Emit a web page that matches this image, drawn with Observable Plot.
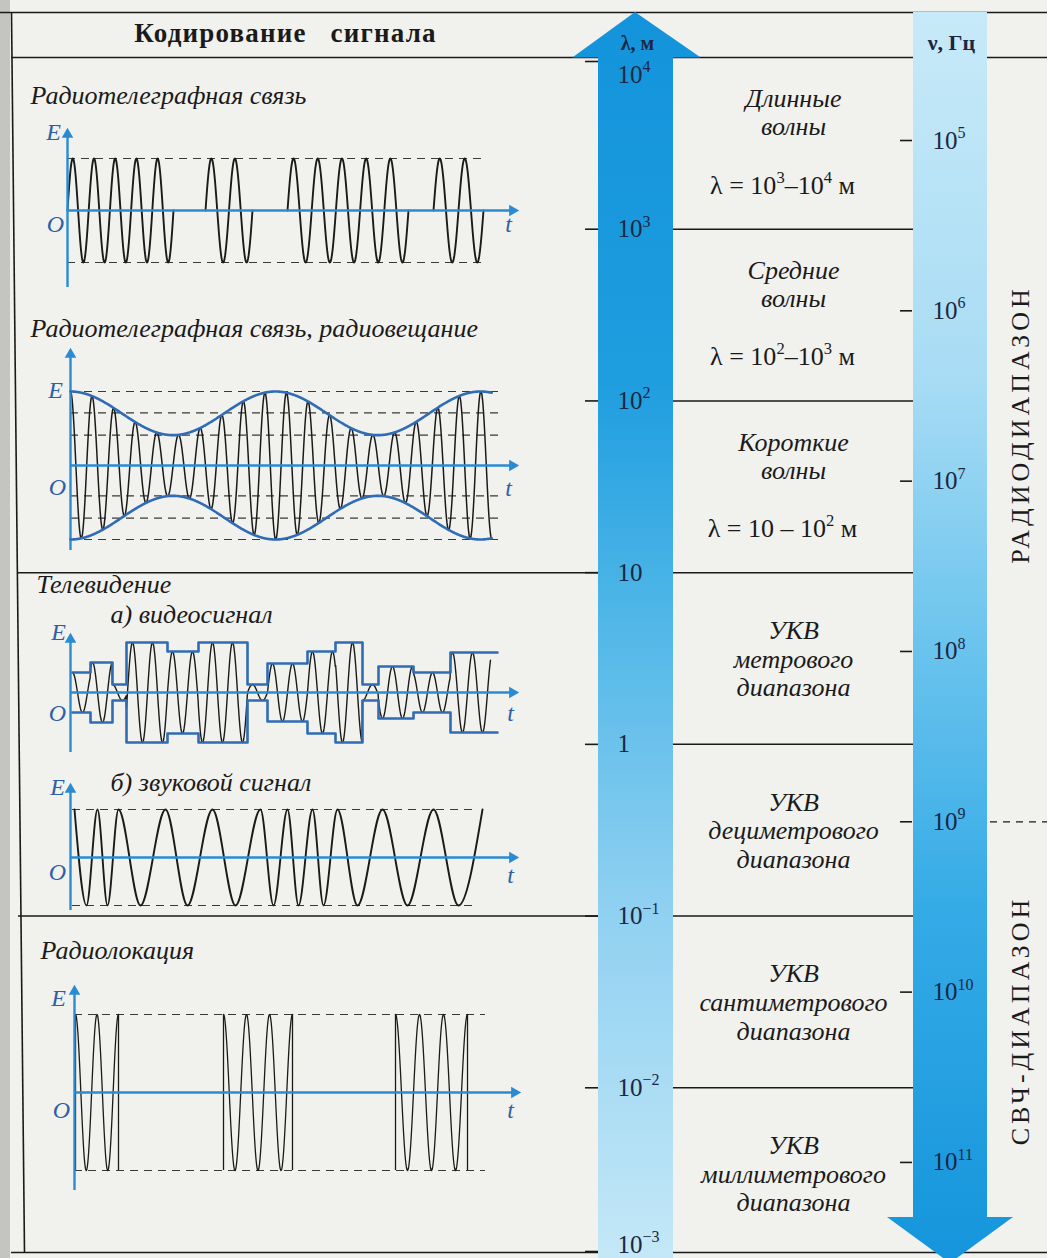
<!DOCTYPE html>
<html><head><meta charset="utf-8">
<script src="https://cdn.jsdelivr.net/npm/d3@7"></script>
<script src="https://cdn.jsdelivr.net/npm/@observablehq/plot@0.6"></script>
<style>
body{margin:0;background:#f1f1ee;}
#fig{position:relative;width:1047px;height:1258px;overflow:hidden;background:#f1f1ee;}
#fig svg{position:absolute;overflow:visible;max-width:none;}
#fig svg text{font-family:'Liberation Serif','Times New Roman',serif !important;}
</style></head><body><div id="fig"></div>
<script>
// ================= DATA =================
const headerTitle = ["Кодирование   сигнала"];
const sectionTitles = ["Радиотелеграфная связь", "Радиотелеграфная связь, радиовещание", "Телевидение", "а) видеосигнал", "б) звуковой сигнал", "Радиолокация"];
const axisTitles = ["λ, м", "ν, Гц"];
const rangeNames = ["РАДИОДИАПАЗОН", "СВЧ-ДИАПАЗОН"];

const lambdaValues = [1e4, 1e3, 1e2, 1e1, 1, 1e-1, 1e-2, 1e-3];
const lambdaLabels = ["10^{4}", "10^{3}", "10^{2}", "10", "1", "10^{−1}", "10^{−2}", "10^{−3}"];
const nuValues = [1e5, 1e6, 1e7, 1e8, 1e9, 1e10, 1e11];
const nuLabels = ["10^{5}", "10^{6}", "10^{7}", "10^{8}", "10^{9}", "10^{10}", "10^{11}"];

const bandNames = [["Длинные", "волны"], ["Средние", "волны"], ["Короткие", "волны"],
  ["УКВ", "метрового", "диапазона"], ["УКВ", "дециметрового", "диапазона"],
  ["УКВ", "сантиметрового", "диапазона"], ["УКВ", "миллиметрового", "диапазона"]];
const bandHigh = [1e4, 1e3, 1e2, 1e1, 1, 1e-1, 1e-2];
const bandLow = [1e3, 1e2, 1e1, 1, 1e-1, 1e-2, 1e-3];
const bandFormulas = ["λ = 10^{3}–10^{4} м", "λ = 10^{2}–10^{3} м", "λ = 10 – 10^{2} м"];
const sectionBorderLambda = [1e1, 1e-1];
const dashedNu = [1e9];

// signals (t = distance from E axis, E = relative amplitude)
const telegraphStart = [0, 138, 220, 366];
const telegraphEnd = [106, 185, 341, 416];
const telegraphCycles = [5, 2, 5, 2];
const telegraphLevels = [1, -1];

const amCarrierPeriod = 21.6;
const amCarrierCycles = 19.5;
const amEnvelopeMax = 1;
const amEnvelopeMin = 0.41;
const amEnvelopePeriod = 205;
const amLevels = [1, 0.71, 0.41, -0.41, -0.71, -1];

const videoEdges = [2, 20, 42, 56, 97, 128, 177, 197, 237, 265, 292, 308, 343, 380, 427];
const videoLevels = [0.4, 0.6, 0.16, 1, 0.82, 1, 0.16, 0.58, 0.82, 1, 0.16, 0.52, 0.4, 0.8];
const videoCarrierPeriod = 20;
const videoCarrierEnd = 420;

const audioExtrema = [4, 16, 27, 37, 48, 70, 95, 117, 142, 165, 190, 203, 217, 228, 242, 253, 267, 287, 312, 337, 363, 388, 412];
const audioLevels = [1, -1];

const radarStart = [1, 149, 321];
const radarEnd = [44, 218, 393];
const radarCycles = [2, 3, 3];
const radarLevels = [1, -1];

// ================= STYLE / LAYOUT =================
const W = 1047, H = 1258;
const INK = "#1a1a1a", DASH = "#3a3a3a", AXIS = "#2a8bd3", ENV = "#2f6cb5", NAVY = "#1b2742", LBL = "#2d5fa8";
const SERIF = "Liberation Serif";
const container = document.getElementById("fig");
function place(svg, left, top) {
  svg.style.position = "absolute"; svg.style.left = left + "px"; svg.style.top = top + "px";
  container.appendChild(svg); return svg;
}
function supify(svg) {
  d3.select(svg).selectAll("text").each(function () {
    if (this.querySelector("tspan")) return;
    const s = this.textContent;
    if (!s.includes("^{")) return;
    const fs = parseFloat(getComputedStyle(this).fontSize) || 24;
    const parts = s.split(/\^\{([^}]*)\}/);
    this.textContent = "";
    const sel = d3.select(this);
    let shifted = false;
    parts.forEach((p, i) => {
      if (p === "") return;
      const ts = sel.append("tspan").text(p);
      if (i % 2 === 1) { ts.attr("dy", (-0.42 * fs).toFixed(1)).attr("font-size", (0.64 * fs).toFixed(1)); shifted = true; }
      else if (shifted) { ts.attr("dy", (0.42 * fs).toFixed(1)); shifted = false; }
    });
  });
}
const layoutXY = {x: {domain: [0, W], range: [0, W], axis: null}};
const tstyle = {fontFamily: SERIF};

// ================= BASE LAYER =================
const lamHead = [{x: 573, y: 57}, {x: 635, y: 12}, {x: 700, y: 57}];
const nuHead = [{x: 887, y: 1217}, {x: 950, y: 1263}, {x: 1013, y: 1217}];
const titlePos = [[30, 95], [30, 328], [36, 584], [110, 614], [110, 782], [40, 950]];

const base = Plot.plot({
  width: W, height: H, margin: 0,
  style: {background: "transparent", overflow: "visible"},
  ...layoutXY,
  y: {domain: [0, H], range: [0, H], axis: null},
  marks: [
    Plot.rect([0], {x1: 0, x2: 10, y1: 0, y2: H, fill: "#c4c4c1"}),
    Plot.ruleY([12], {x1: 0, x2: W, stroke: INK, strokeWidth: 1.6}),
    Plot.ruleY([57], {x1: 11, x2: W, stroke: INK, strokeWidth: 1.6}),
    Plot.ruleY([1252], {x1: 11, x2: W, stroke: INK, strokeWidth: 1.6}),
    Plot.link([0], {x1: 11, y1: 12, x2: 24, y2: 1252, stroke: INK, strokeWidth: 1.6}),
    Plot.rect([0], {x1: 598, x2: 673, y1: 57, y2: H, fill: "url(#gradL)"}),
    Plot.areaY(lamHead, {x: "x", y1: 57.5, y2: "y", fill: "url(#gradL)"}),
    Plot.rect([0], {x1: 913, x2: 987, y1: 12, y2: 1217.5, fill: "url(#gradN)"}),
    Plot.areaY(nuHead, {x: "x", y1: 1217, y2: "y", fill: "url(#gradN)"}),
    Plot.text(headerTitle, {x: 285, y: 33, text: d => d, fontSize: 27, fontWeight: "bold", fill: INK, ...tstyle}),
    Plot.text(sectionTitles, {x: (d, i) => titlePos[i][0], y: (d, i) => titlePos[i][1], text: d => d, textAnchor: "start",
      fontSize: 26, fontStyle: "italic", fill: INK, ...tstyle}),
    Plot.text(axisTitles, {x: (d, i) => [637, 951][i], y: (d, i) => [43, 42][i], text: d => d,
      fontSize: (d, i) => [20, 22][i], fill: NAVY, fontWeight: "bold", ...tstyle}),
    Plot.text(rangeNames, {x: 1020, y: (d, i) => [424, 1020][i], text: d => d, rotate: -90, fontSize: 26, fill: INK, ...tstyle})
  ]
});
d3.select(base).insert("defs", ":first-child").html(`
  <linearGradient id="gradL" gradientUnits="userSpaceOnUse" x1="0" y1="0" x2="0" y2="${H}">
    <stop offset="0" stop-color="#1393db"/><stop offset="0.3" stop-color="#1e9ddf"/>
    <stop offset="0.5" stop-color="#52b8e8"/><stop offset="0.72" stop-color="#8fd0f1"/>
    <stop offset="1" stop-color="#c4e8f7"/></linearGradient>
  <linearGradient id="gradN" gradientUnits="userSpaceOnUse" x1="0" y1="0" x2="0" y2="${H}">
    <stop offset="0" stop-color="#c8eaf8"/><stop offset="0.3" stop-color="#a8dcf4"/>
    <stop offset="0.5" stop-color="#6ec5ee"/><stop offset="0.72" stop-color="#35abe6"/>
    <stop offset="1" stop-color="#1595dc"/></linearGradient>`);
place(base, 0, 0);
d3.select(base).selectAll("text").filter(function () { return rangeNames.includes(this.textContent); }).attr("letter-spacing", 4);
d3.select(base).selectAll("text").filter(function () { return this.textContent === headerTitle[0]; }).attr("letter-spacing", 1.2);

// ================= ν LAYER =================
const nuPlot = Plot.plot({
  width: W, height: H, margin: 0,
  style: {background: "transparent", overflow: "visible"},
  ...layoutXY,
  y: {type: "log", domain: [10 ** 4.178, 10 ** 11.564], range: [0, H], axis: null},
  marks: [
    Plot.ruleY(nuValues, {x1: 900, x2: 912, stroke: INK, strokeWidth: 1.6}),
    Plot.ruleY(dashedNu, {x1: 990, x2: W, stroke: INK, strokeWidth: 1.2, strokeDasharray: "7,6"}),
    Plot.text(nuValues, {x: 932, y: d => d, text: (d, i) => nuLabels[i], textAnchor: "start", fontSize: 25, fill: NAVY, ...tstyle})
  ]
});
place(nuPlot, 0, 0);
supify(nuPlot);

// ================= λ LAYER =================
const bands = bandNames.map((n, i) => ({name: n.join("\n"), c: Math.sqrt(bandLow[i] * bandHigh[i]), i}));
const lamPlot = Plot.plot({
  width: W, height: H, margin: 0,
  style: {background: "transparent", overflow: "visible"},
  ...layoutXY,
  y: {type: "log", domain: [1e4, 1e-3], range: [57, 1259], axis: null},
  marks: [
    Plot.ruleY(lambdaValues.slice(1, -1), {x1: 673, x2: 913, stroke: INK, strokeWidth: 1.5}),
    Plot.ruleY(sectionBorderLambda, {x1: 18, x2: 598, stroke: INK, strokeWidth: 1.5}),
    Plot.ruleY(lambdaValues.slice(1, -1), {x1: 585, x2: 598, stroke: INK, strokeWidth: 1.6}),
    Plot.ruleY(lambdaValues.slice(0, 1), {x1: 585, x2: 598, dy: 4, stroke: INK, strokeWidth: 1.6}),
    Plot.ruleY(lambdaValues.slice(-1), {x1: 585, x2: 598, dy: -8, stroke: INK, strokeWidth: 1.6}),
    Plot.text(lambdaValues.slice(1, -1), {x: 617, y: d => d, text: (d, i) => lambdaLabels[i + 1], textAnchor: "start", fontSize: 25, fill: NAVY, ...tstyle}),
    Plot.text(lambdaValues.slice(0, 1), {x: 617, y: d => d, text: (d, i) => lambdaLabels[0], dy: 17, textAnchor: "start", fontSize: 25, fill: NAVY, ...tstyle}),
    Plot.text(lambdaValues.slice(-1), {x: 617, y: d => d, text: () => lambdaLabels[lambdaLabels.length - 1], dy: -15, textAnchor: "start", fontSize: 25, fill: NAVY, ...tstyle}),
    Plot.text(bands.filter(b => b.i < 3), {x: 793, y: "c", text: "name", dy: -31, fontSize: 26, lineHeight: 1.08, fontStyle: "italic", fill: INK, ...tstyle}),
    Plot.text(bands.filter(b => b.i >= 3), {x: 793, y: "c", text: "name", fontSize: 26, lineHeight: 1.1, fontStyle: "italic", fill: INK, ...tstyle}),
    Plot.text(bandFormulas, {x: 782, y: (d, i) => bands[i].c, text: d => d, dy: 42, fontSize: 26, fill: INK, ...tstyle})
  ]
});
place(lamPlot, 0, 0);
supify(lamPlot);

// ================= SIGNAL PANELS =================
const panels = {
  telegraph: {top: 112, height: 185, axisX: 67, axisY: 210, A: 52, eTop: 128, eBottom: 287, tEnd: 518, E: [53, 132], O: [55, 224], T: [508, 224]},
  am: {top: 330, height: 230, axisX: 70, axisY: 465, A: 74, eTop: 348, eBottom: 550, tEnd: 518, E: [55, 390], O: [57, 487], T: [508, 488]},
  video: {top: 620, height: 140, axisX: 70, axisY: 692, A: 50, eTop: 633, eBottom: 752, tEnd: 518, E: [58, 632], O: [57, 713], T: [510, 713]},
  audio: {top: 770, height: 150, axisX: 70, axisY: 857, A: 48, eTop: 783, eBottom: 910, tEnd: 518, E: [57, 787], O: [57, 872], T: [510, 875]},
  radar: {top: 970, height: 230, axisX: 74, axisY: 1092, A: 78, eTop: 985, eBottom: 1190, tEnd: 520, E: [58, 998], O: [61, 1110], T: [510, 1110]}
};
const PW = 540;
function toT(cfg, x) { return x - cfg.axisX; }
function toE(cfg, y) { return (cfg.axisY - y) / cfg.A; }
function axesMarks(cfg) {
  const eTip = toE(cfg, cfg.eTop + 6), eBot = toE(cfg, cfg.eBottom), tTip = toT(cfg, cfg.tEnd - 6);
  return [
    Plot.ruleX([0], {y1: eBot, y2: eTip, stroke: AXIS, strokeWidth: 2.4}),
    Plot.ruleY([0], {x1: 0, x2: tTip, stroke: AXIS, strokeWidth: 2.4}),
    Plot.dot([[0, eTip]], {x: d => d[0], y: d => d[1], symbol: "triangle", r: 4.3, fill: AXIS, stroke: "none"}),
    Plot.dot([[tTip, 0]], {x: d => d[0], y: d => d[1], symbol: "triangle", rotate: 90, r: 4.3, fill: AXIS, stroke: "none"}),
    Plot.text(["E", "O", "t"], {
      x: (d, i) => toT(cfg, [cfg.E, cfg.O, cfg.T][i][0]), y: (d, i) => toE(cfg, [cfg.E, cfg.O, cfg.T][i][1]),
      text: d => d, fontSize: 24, fontStyle: "italic", fill: LBL, ...tstyle})
  ];
}
function panelPlot(cfg, marks) {
  const svg = Plot.plot({
    width: PW, height: cfg.height, margin: 0,
    style: {background: "transparent", overflow: "visible"},
    x: {type: "linear", domain: [-cfg.axisX, PW - cfg.axisX], range: [0, PW], axis: null},
    y: {type: "linear", domain: [(cfg.axisY - cfg.top - cfg.height) / cfg.A, (cfg.axisY - cfg.top) / cfg.A], range: [cfg.height, 0], axis: null},
    marks
  });
  return place(svg, 0, cfg.top);
}
function burstSamples(starts, ends, cycles, fn) {
  const out = [];
  starts.forEach((t0, k) => {
    const t1 = ends[k], P = (t1 - t0) / cycles[k], n = Math.ceil((t1 - t0) / 0.4);
    for (let i = 0; i <= n; i++) {
      const t = t0 + (t1 - t0) * i / n;
      out.push({t, E: fn(2 * Math.PI * (t - t0) / P), k});
    }
  });
  return out;
}
const dashStyle = {stroke: DASH, strokeWidth: 1.2, strokeDasharray: "8,6"};

// telegraph
{
  const cfg = panels.telegraph;
  const s = burstSamples(telegraphStart, telegraphEnd, telegraphCycles, Math.sin);
  panelPlot(cfg, [
    Plot.ruleY(telegraphLevels, {x1: 0, x2: 416, ...dashStyle}),
    Plot.line(s, {x: "t", y: "E", z: "k", stroke: INK, strokeWidth: 1.9}),
    ...axesMarks(cfg)
  ]);
}
// AM
{
  const cfg = panels.am;
  const mean = (amEnvelopeMax + amEnvelopeMin) / 2, depth = (amEnvelopeMax - amEnvelopeMin) / 2;
  const tEnd = amCarrierPeriod * amCarrierCycles, n = Math.ceil(tEnd / 0.4);
  const s = [], up = [], lo = [];
  for (let i = 0; i <= n; i++) {
    const t = tEnd * i / n, env = mean + depth * Math.cos(2 * Math.PI * t / amEnvelopePeriod);
    s.push({t, E: env * Math.cos(2 * Math.PI * t / amCarrierPeriod)});
    up.push({t, E: env}); lo.push({t, E: -env});
  }
  panelPlot(cfg, [
    Plot.ruleY(amLevels, {x1: 0, x2: 433, ...dashStyle}),
    Plot.line(s, {x: "t", y: "E", stroke: INK, strokeWidth: 1.5}),
    ...axesMarks(cfg),
    Plot.line(up, {x: "t", y: "E", stroke: ENV, strokeWidth: 2.6}),
    Plot.line(lo, {x: "t", y: "E", stroke: ENV, strokeWidth: 2.6})
  ]);
}
// video
{
  const cfg = panels.video;
  const t0 = videoEdges[0], n = Math.ceil((videoCarrierEnd - t0) / 0.4), s = [];
  for (let i = 0; i <= n; i++) {
    const t = t0 + (videoCarrierEnd - t0) * i / n;
    const j = Math.min(videoLevels.length - 1, Math.max(0, d3.bisectRight(videoEdges, t) - 1));
    s.push({t, E: videoLevels[j] * Math.cos(2 * Math.PI * (t - t0) / videoCarrierPeriod)});
  }
  const env = videoEdges.map((t, i) => ({t, E: videoLevels[Math.min(i, videoLevels.length - 1)]}));
  panelPlot(cfg, [
    Plot.line(s, {x: "t", y: "E", stroke: INK, strokeWidth: 1.4}),
    ...axesMarks(cfg),
    Plot.line(env, {x: "t", y: "E", curve: "step-after", stroke: ENV, strokeWidth: 2.6}),
    Plot.line(env, {x: "t", y: d => -d.E, curve: "step-after", stroke: ENV, strokeWidth: 2.6})
  ]);
}
// audio
{
  const cfg = panels.audio;
  const pts = audioExtrema.map((t, i) => ({t, E: audioLevels[i % 2]}));
  panelPlot(cfg, [
    Plot.ruleY(audioLevels, {x1: 2, x2: 407, ...dashStyle}),
    Plot.line(pts, {x: "t", y: "E", curve: "monotone-x", stroke: INK, strokeWidth: 1.9}),
    ...axesMarks(cfg)
  ]);
}
// radar
{
  const cfg = panels.radar;
  const s = burstSamples(radarStart, radarEnd, radarCycles, Math.cos);
  panelPlot(cfg, [
    Plot.ruleY(radarLevels, {x1: 0, x2: 411, ...dashStyle}),
    Plot.line(s, {x: "t", y: "E", z: "k", stroke: INK, strokeWidth: 1.3}),
    Plot.ruleX([...radarStart, ...radarEnd], {y1: -1, y2: 1, stroke: INK, strokeWidth: 1.3}),
    ...axesMarks(cfg)
  ]);
}
</script></body></html>
